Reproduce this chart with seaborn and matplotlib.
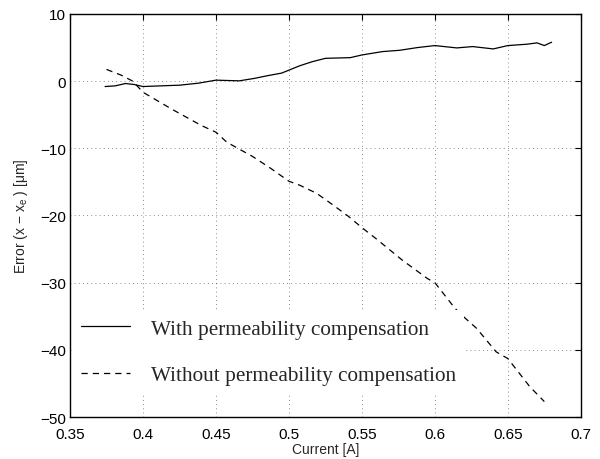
import matplotlib
matplotlib.use('Agg')
import matplotlib.pyplot as plt
import seaborn as sns

# data
solid_x = [0.374, 0.381, 0.388, 0.394, 0.400, 0.412, 0.425, 0.438, 0.450, 0.466,
           0.476, 0.485, 0.495, 0.5075, 0.516, 0.525, 0.542, 0.550, 0.564, 0.576,
           0.588, 0.600, 0.615, 0.626, 0.640, 0.650, 0.663, 0.670, 0.675, 0.680]
solid_y = [-0.8, -0.7, -0.35, -0.5, -0.8, -0.7, -0.6, -0.3, 0.15, 0.05,
           0.4, 0.8, 1.2, 2.3, 2.9, 3.4, 3.5, 3.9, 4.4, 4.6,
           5.0, 5.3, 4.95, 5.15, 4.8, 5.3, 5.5, 5.7, 5.3, 5.8]

dashed_x = [0.375, 0.385, 0.393, 0.400, 0.420, 0.440, 0.450, 0.4575, 0.475, 0.487,
            0.500, 0.5075, 0.519, 0.530, 0.5406, 0.550, 0.560, 0.578, 0.595, 0.600,
            0.6137, 0.6193, 0.6286, 0.642, 0.650, 0.6651, 0.675]
dashed_y = [1.75, 0.9, 0.0, -1.65, -4.2, -6.6, -7.6, -9.1, -11.2, -12.9,
            -14.9, -15.5, -16.7, -18.4, -20.1, -21.8, -23.5, -26.7, -29.4, -30.0,
            -33.8, -35.0, -36.8, -40.3, -41.3, -45.5, -47.7]

labels = ['With permeability compensation', 'Without permeability compensation']
x_ticks = [0.35, 0.4, 0.45, 0.5, 0.55, 0.6, 0.65, 0.7]
x_ticklabels = ['0.35', '0.4', '0.45', '0.5', '0.55', '0.6', '0.65', '0.7']
y_ticks = [-50, -40, -30, -20, -10, 0, 10]
y_ticklabels = ['\u221250', '\u221240', '\u221230', '\u221220', '\u221210', '0', '10']

sns.set_style('white')
plt.rcParams['font.family'] = ['Liberation Sans', 'DejaVu Sans']
plt.rcParams['mathtext.fontset'] = 'custom'
plt.rcParams['mathtext.rm'] = 'Liberation Sans'
plt.rcParams['mathtext.it'] = 'Liberation Sans:italic'

fig = plt.figure(figsize=(6, 4.6), dpi=100)
ax = fig.add_axes([0.1167, 0.0913, 0.8513, 0.8761])

sns.lineplot(x=solid_x, y=solid_y, ax=ax, color='black', linewidth=0.9,
             label=labels[0], sort=False)
sns.lineplot(x=dashed_x, y=dashed_y, ax=ax, color='black', linewidth=0.9,
             linestyle=(0, (5, 4)), label=labels[1], sort=False)

ax.set_xlim(0.35, 0.7)
ax.set_ylim(-50, 10)
ax.set_xticks(x_ticks)
ax.set_xticklabels(x_ticklabels)
ax.set_yticks(y_ticks)
ax.set_yticklabels(y_ticklabels)
ax.tick_params(direction='in', top=True, right=True, length=4, width=0.8,
               labelsize=11, colors='black')
ax.tick_params(axis='x', pad=7)
ax.tick_params(axis='y', pad=3)
ax.grid(True, linestyle=(0, (1, 4)), color='black', linewidth=0.6, alpha=0.6)
for s in ax.spines.values():
    s.set_color('black')
    s.set_linewidth(1.0)

ax.set_xlabel('Current [A]', fontsize=10, labelpad=1)
ax.set_ylabel('Error (x $-$ x$_\\mathrm{e}$ ) [\u03bcm]', fontsize=10, labelpad=7)

leg = ax.legend(loc='lower left', bbox_to_anchor=(0.0, 0.053), frameon=True,
                prop={'family': 'Liberation Serif', 'size': 15.3},
                handlelength=2.3, handletextpad=1.0, labelspacing=1.25,
                borderaxespad=0.1)
leg.get_frame().set_facecolor('white')
leg.get_frame().set_edgecolor('none')
leg.get_frame().set_alpha(1.0)

fig.savefig('out.png', dpi=100)
